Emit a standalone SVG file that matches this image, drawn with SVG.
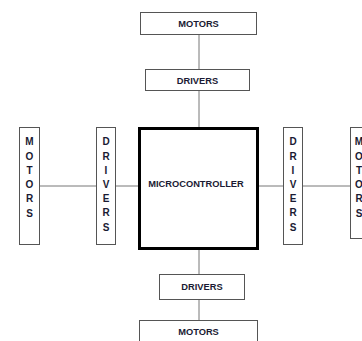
<svg xmlns="http://www.w3.org/2000/svg" width="362" height="341" viewBox="0 0 362 341">
<style>
.box{fill:#fff;stroke:#555;stroke-width:1}
.mc{fill:#fff;stroke:#000;stroke-width:3}
.ln{stroke:#777;stroke-width:1;fill:none}
text{font-family:"Liberation Sans",Arial,sans-serif;font-weight:bold;font-size:9.3px;fill:#1a1a33;text-anchor:middle}
.v{font-size:10px}
</style>
<rect width="362" height="341" fill="#fff"/>
<g id="connectors">
<line class="ln" x1="199" y1="34" x2="199" y2="69"/>
<line class="ln" x1="199" y1="90" x2="199" y2="127"/>
<line class="ln" x1="199" y1="250" x2="199" y2="274"/>
<line class="ln" x1="199" y1="299" x2="199" y2="320"/>
<line class="ln" x1="39" y1="186" x2="96" y2="186"/>
<line class="ln" x1="115" y1="186" x2="138" y2="186"/>
<line class="ln" x1="258" y1="186" x2="283" y2="186"/>
<line class="ln" x1="303" y1="186" x2="350" y2="186"/>
</g>
<g id="motors-top"><rect class="box" x="140.5" y="12.5" width="116" height="22"/><text x="198.5" y="26.5">MOTORS</text></g>
<g id="drivers-top"><rect class="box" x="145.5" y="69.5" width="104" height="21"/><text x="197.5" y="83.5">DRIVERS</text></g>
<g id="microcontroller"><rect class="mc" x="139.5" y="128.5" width="118" height="120"/><text x="196" y="187">MICROCONTROLLER</text></g>
<g id="drivers-bottom"><rect class="box" x="159.5" y="274.5" width="85" height="25"/><text x="202" y="290">DRIVERS</text></g>
<g id="motors-bottom"><rect class="box" x="139.5" y="320.5" width="118" height="22"/><text x="198.5" y="335">MOTORS</text></g>
<g id="motors-left" class="v"><rect class="box" x="19.5" y="127.5" width="20" height="117"/>
<text class="v" x="29.5" y="145">M</text><text class="v" x="29.5" y="160">O</text><text class="v" x="29.5" y="174">T</text><text class="v" x="29.5" y="188">O</text><text class="v" x="29.5" y="202">R</text><text class="v" x="29.5" y="217">S</text></g>
<g id="drivers-left"><rect class="box" x="96.5" y="127.5" width="19" height="117"/>
<text class="v" x="106" y="145">D</text><text class="v" x="106" y="160">R</text><text class="v" x="106" y="174">I</text><text class="v" x="106" y="188">V</text><text class="v" x="106" y="202">E</text><text class="v" x="106" y="216">R</text><text class="v" x="106" y="231">S</text></g>
<g id="drivers-right"><rect class="box" x="283.5" y="127.5" width="19" height="117"/>
<text class="v" x="293" y="145">D</text><text class="v" x="293" y="160">R</text><text class="v" x="293" y="174">I</text><text class="v" x="293" y="188">V</text><text class="v" x="293" y="202">E</text><text class="v" x="293" y="216">R</text><text class="v" x="293" y="231">S</text></g>
<g id="motors-right"><rect class="box" x="350.5" y="127.5" width="20" height="111"/>
<text class="v" x="359" y="145">M</text><text class="v" x="359" y="160">O</text><text class="v" x="359" y="174">T</text><text class="v" x="359" y="188">O</text><text class="v" x="359" y="202">R</text><text class="v" x="359" y="217">S</text></g>
</svg>
